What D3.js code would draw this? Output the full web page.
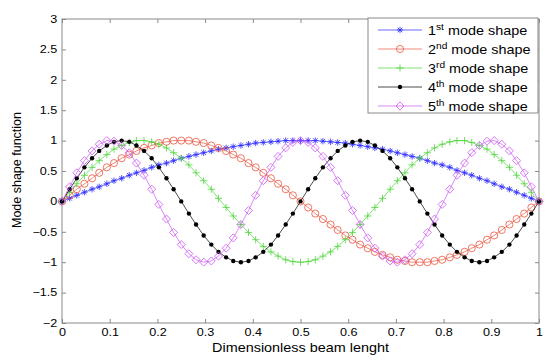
<!DOCTYPE html>
<html>
<head>
<meta charset="utf-8">
<script src="https://cdn.jsdelivr.net/npm/d3@7"></script>
<style>
  body { margin: 0; background: #fff; }
  text { font-family: "Liberation Sans", Arial, sans-serif; fill: #000; }
</style>
</head>
<body>
<div id="chart"></div>
<script>
// x positions along the beam (65 sample points)
var xs = [0,.016,.031,.047,.063,.078,.094,.109,.125,.141,.156,.172,.188,.203,.219,.234,.25,
  .266,.281,.297,.313,.328,.344,.359,.375,.391,.406,.422,.438,.453,.469,.484,.5,
  .516,.531,.547,.563,.578,.594,.609,.625,.641,.656,.672,.688,.703,.719,.734,.75,
  .766,.781,.797,.813,.828,.844,.859,.875,.891,.906,.922,.938,.953,.969,.984,1];

var mode1 = [0,.05,.10,.15,.20,.24,.29,.34,.38,.43,.47,.51,.56,.60,.63,.67,.71,.74,.77,.80,
  .83,.86,.88,.90,.92,.94,.96,.97,.98,.99,1,1,1,1,1,.99,.98,.97,.96,.94,.92,.90,.88,.86,.83,
  .80,.77,.74,.71,.67,.63,.60,.56,.51,.47,.43,.38,.34,.29,.24,.20,.15,.10,.05,0];

var mode2 = [0,.10,.20,.29,.38,.47,.56,.63,.71,.77,.83,.88,.92,.96,.98,1,1,1,.98,.96,.92,.88,
  .83,.77,.71,.63,.56,.47,.38,.29,.20,.10,0,-.10,-.20,-.29,-.38,-.47,-.56,-.63,-.71,-.77,-.83,
  -.88,-.92,-.96,-.98,-1,-1,-1,-.98,-.96,-.92,-.88,-.83,-.77,-.71,-.63,-.56,-.47,-.38,-.29,-.20,-.10,0];

var mode3 = [0,.15,.29,.43,.56,.67,.77,.86,.92,.97,1,1,.98,.94,.88,.80,.71,.60,.47,.34,.20,.05,
  -.10,-.24,-.38,-.51,-.63,-.74,-.83,-.90,-.96,-.99,-1,-.99,-.96,-.90,-.83,-.74,-.63,-.51,-.38,
  -.24,-.10,.05,.20,.34,.47,.60,.71,.80,.88,.94,.98,1,1,.97,.92,.86,.77,.67,.56,.43,.29,.15,0];

var mode4 = [0,.20,.38,.56,.71,.83,.92,.98,1,.98,.92,.83,.71,.56,.38,.20,0,
  -.20,-.38,-.56,-.71,-.83,-.92,-.98,-1,-.98,-.92,-.83,-.71,-.56,-.38,-.20,0,
  .20,.38,.56,.71,.83,.92,.98,1,.98,.92,.83,.71,.56,.38,.20,0,
  -.20,-.38,-.56,-.71,-.83,-.92,-.98,-1,-.98,-.92,-.83,-.71,-.56,-.38,-.20,0];

var mode5 = [0,.24,.47,.67,.83,.94,1,.99,.92,.80,.63,.43,.20,-.05,-.29,-.51,-.71,-.86,-.96,-1,
  -.98,-.90,-.77,-.60,-.38,-.15,.10,.34,.56,.74,.88,.97,1,.97,.88,.74,.56,.34,.10,-.15,-.38,
  -.60,-.77,-.90,-.98,-1,-.96,-.86,-.71,-.51,-.29,-.05,.20,.43,.63,.80,.92,.99,1,.94,.83,.67,.47,.24,0];

var ordinals = ["1", "2", "3", "4", "5"],
    suffixes = ["st", "nd", "rd", "th", "th"],
    colors = ["#2b2bff", "#e8553f", "#4ed63a", "#000000", "#cc55f5"],
    markers = ["asterisk", "circle", "plus", "dot", "diamond"];
var series = [mode1, mode2, mode3, mode4, mode5];

var xTicks = d3.range(0, 11).map(function(d) { return d / 10; }),
    yTicks = d3.range(-4, 7).map(function(d) { return d / 2; });

var W = 550, H = 363,
    margin = {left: 62, top: 19, right: 11, bottom: 40},
    width = W - margin.left - margin.right,
    height = H - margin.top - margin.bottom,
    stretch = 1.2; // text in the original is horizontally stretched

var x = d3.scaleLinear().domain([0, 1]).range([0, width]);
var y = d3.scaleLinear().domain([-2, 3]).range([height, 0]);

var svg = d3.select("#chart").append("svg")
    .attr("width", W)
    .attr("height", H)
  .append("g")
    .attr("transform", "translate(" + margin.left + "," + margin.top + ")");

// axes, MATLAB style with inward ticks
var gray = "#8a8a8a";
function styleAxis(g, labels) {
  g.select(".domain").remove();
  g.selectAll(".tick line").attr("stroke", gray);
  if (!labels) g.selectAll(".tick text").remove();
  g.selectAll(".tick text").style("font-size", "10.5px");
}

svg.append("g")
    .attr("transform", "translate(0," + height + ")")
    .call(d3.axisBottom(x).tickValues(xTicks).tickSize(-4).tickPadding(6).tickFormat(d3.format("")))
    .call(function(g) { styleAxis(g, true); })
    .selectAll(".tick text").attr("transform", "scale(" + stretch + ",1)");

svg.append("g")
    .call(d3.axisTop(x).tickValues(xTicks).tickSize(-4))
    .call(function(g) { styleAxis(g, false); });

svg.append("g")
    .call(d3.axisLeft(y).tickValues(yTicks).tickSize(-4).tickPadding(4).tickFormat(d3.format("")))
    .call(function(g) { styleAxis(g, true); })
    .selectAll(".tick text").attr("transform", "scale(" + stretch + ",1)");

svg.append("g")
    .attr("transform", "translate(" + width + ",0)")
    .call(d3.axisRight(y).tickValues(yTicks).tickSize(-4))
    .call(function(g) { styleAxis(g, false); });

svg.append("rect")
    .attr("width", width)
    .attr("height", height)
    .attr("fill", "none")
    .attr("stroke", gray)
    .attr("stroke-width", 1);

// axis titles
svg.append("text")
    .attr("transform", "translate(" + (width / 2) + "," + (height + 29) + ") scale(" + stretch + ",1)")
    .attr("text-anchor", "middle")
    .style("font-size", "12px")
    .text("Dimensionless beam lenght");

svg.append("text")
    .attr("transform", "translate(" + (21 - margin.left) + "," + (170 - margin.top) + ") rotate(-90)")
    .attr("text-anchor", "middle")
    .style("font-size", "12.5px")
    .text("Mode shape function");

// marker shapes
function markerPath(type) {
  switch (type) {
    case "asterisk":
      return "M-3.2,0H3.2M0,-3.2V3.2M-2.3,-2.3L2.3,2.3M-2.3,2.3L2.3,-2.3";
    case "plus":
      return "M-3.6,0H3.6M0,-3.6V3.6";
    case "diamond":
      return "M0,-4L4,0L0,4L-4,0Z";
    case "circle":
      return d3.symbol(d3.symbolCircle, 40)();
    case "dot":
      return d3.symbol(d3.symbolCircle, 15)();
  }
}

function drawMarker(g, type, color) {
  g.append("path")
      .attr("d", markerPath(type))
      .attr("fill", type === "dot" ? color : "none")
      .attr("stroke", color)
      .attr("stroke-width", type === "dot" ? 0 : 0.8);
}

var line = d3.line()
    .x(function(d) { return x(d[0]); })
    .y(function(d) { return y(d[1]); });

series.forEach(function(vals, k) {
  var pts = xs.map(function(xv, i) { return [xv, vals[i]]; });
  var g = svg.append("g");
  g.append("path")
      .attr("d", line(pts))
      .attr("fill", "none")
      .attr("stroke", colors[k])
      .attr("stroke-width", 0.7);
  pts.forEach(function(p) {
    var m = g.append("g").attr("transform", "translate(" + x(p[0]) + "," + y(p[1]) + ")");
    drawMarker(m, markers[k], colors[k]);
  });
});

// legend
var lg = svg.append("g").attr("transform", "translate(" + (368 - margin.left) + "," + (18 - margin.top) + ")");
lg.append("rect")
    .attr("width", 170)
    .attr("height", 95)
    .attr("fill", "#fff")
    .attr("stroke", gray)
    .attr("stroke-width", 1);

ordinals.forEach(function(o, k) {
  var row = lg.append("g").attr("transform", "translate(0," + (12 + k * 19) + ")");
  row.append("line")
      .attr("x1", 10).attr("x2", 54)
      .attr("stroke", colors[k])
      .attr("stroke-width", 0.7);
  var m = row.append("g").attr("transform", "translate(32,0)");
  drawMarker(m, markers[k], colors[k]);
  var t = row.append("text")
      .attr("transform", "translate(60,5) scale(" + stretch + ",1)")
      .style("font-size", "12px");
  t.append("tspan").text(o);
  t.append("tspan").attr("dy", -5).style("font-size", "8.5px").text(suffixes[k]);
  t.append("tspan").attr("dy", 5).text(" mode shape");
});
</script>
</body>
</html>
